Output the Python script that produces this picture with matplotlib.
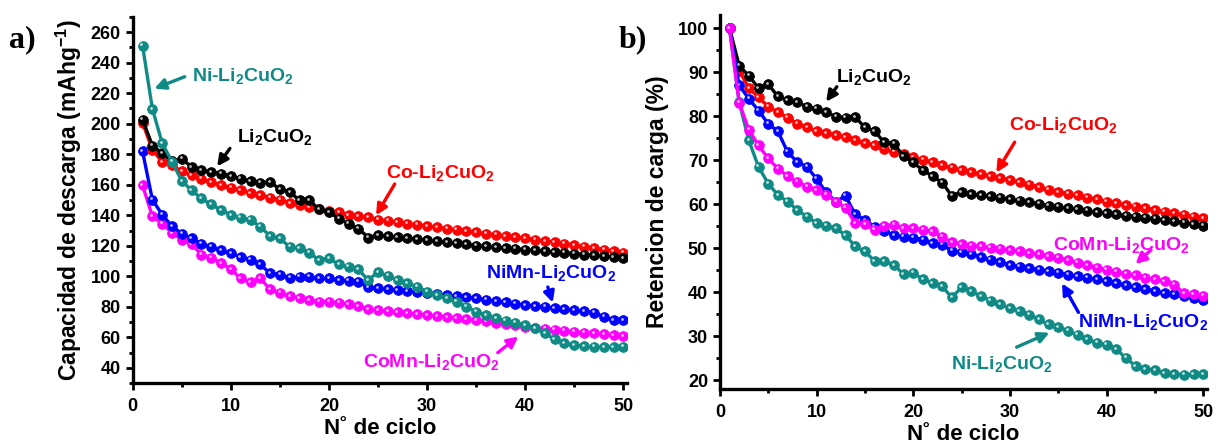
"""
plot.py
Capacidad de descarga y retencion de carga vs N de ciclo.
"""

import matplotlib
matplotlib.use("Agg")

import matplotlib.pyplot as plt
import matplotlib.transforms as mtransforms
import numpy as np
from matplotlib.ticker import MultipleLocator

plt.rcParams["font.family"] = ["Liberation Sans", "DejaVu Sans"]
plt.rcParams["font.weight"] = "bold"
plt.rcParams["mathtext.fontset"] = "custom"
plt.rcParams["mathtext.rm"] = "Liberation Sans:bold"
plt.rcParams["mathtext.bf"] = "Liberation Sans:bold"
plt.rcParams["mathtext.it"] = "Liberation Sans:bold"

# --- data -------------------------------------------------------------
ciclo = np.arange(1, 51)

# a) capacidad de descarga (mAh/g)
cap_li = [202.5, 185.7, 180.7, 175.5, 177.0, 171.7, 169.4, 168.3, 167.2, 165.7,
          164.0, 162.4, 161.4, 161.8, 157.0, 155.2, 149.8, 149.8, 143.9, 142.2,
          137.8, 134.6, 131.3, 125.4, 126.9, 126.3, 125.6, 124.9, 124.3, 123.7,
          123.0, 122.4, 121.6, 120.9, 120.2, 119.6, 119.0, 118.5, 118.0, 117.5,
          117.0, 116.5, 116.0, 115.4, 114.9, 114.3, 113.7, 113.2, 112.6, 111.9]
cap_co = [200.5, 183.0, 174.8, 172.7, 168.8, 166.1, 164.0, 161.8, 159.6, 158.1,
          156.3, 154.6, 153.0, 151.6, 150.3, 148.0, 146.5, 145.4, 143.9, 142.8,
          142.2, 140.0, 139.3, 138.9, 137.2, 136.4, 135.5, 134.6, 133.8, 133.0,
          132.2, 131.3, 130.5, 129.6, 128.8, 128.0, 127.2, 126.4, 125.6, 124.8,
          124.0, 123.2, 122.3, 121.4, 120.5, 119.5, 118.5, 117.5, 116.5, 115.4]
cap_ni = [251.0, 209.7, 187.3, 175.0, 162.5, 156.3, 151.0, 147.1, 143.5, 140.2,
          138.3, 137.0, 132.6, 126.3, 124.8, 119.3, 118.6, 115.4, 110.6, 111.7,
          107.8, 106.2, 104.5, 97.5, 102.9, 100.3, 97.5, 95.4, 93.2, 89.9,
          87.7, 85.6, 83.3, 80.1, 76.8, 74.6, 72.5, 70.9, 69.6, 68.1,
          65.9, 62.7, 58.8, 56.1, 55.0, 54.2, 53.8, 53.6, 53.7, 54.0]
cap_nimn = [181.8, 150.2, 140.4, 132.8, 128.0, 124.8, 121.5, 119.3, 117.1, 115.0,
            112.7, 111.0, 107.8, 101.9, 101.2, 99.0, 99.7, 99.7, 98.6, 98.6,
            97.5, 97.1, 96.4, 92.7, 92.1, 91.6, 91.0, 90.4, 89.8, 89.2,
            88.5, 87.8, 87.0, 86.3, 85.6, 84.7, 83.8, 82.9, 82.0, 81.2,
            80.6, 80.0, 79.3, 78.6, 77.9, 77.0, 76.2, 73.5, 71.4, 71.4]
cap_comn = [159.6, 139.3, 134.6, 128.4, 124.1, 121.0, 114.3, 112.1, 108.8, 104.7,
            98.6, 96.0, 98.6, 91.4, 89.2, 87.1, 85.6, 84.4, 83.3, 83.3,
            82.7, 81.8, 80.5, 78.4, 77.9, 77.2, 76.5, 75.8, 75.2, 74.6,
            74.0, 73.3, 72.7, 72.0, 71.4, 70.5, 69.6, 68.7, 67.9, 67.0,
            66.3, 65.7, 65.0, 64.4, 63.7, 63.1, 62.6, 62.0, 61.5, 60.9]

# b) retencion de carga (%)
ret_li = [100.0, 91.5, 89.2, 86.4, 87.3, 84.5, 83.6, 83.2, 82.2, 81.7,
          80.9, 79.9, 79.7, 79.8, 77.5, 76.6, 74.1, 73.8, 70.9, 69.5,
          67.7, 66.4, 64.9, 61.9, 62.8, 62.3, 62.0, 61.8, 61.5, 61.1,
          60.8, 60.4, 60.1, 59.7, 59.4, 59.1, 58.8, 58.5, 58.2, 57.9,
          57.7, 57.4, 57.2, 56.9, 56.7, 56.4, 56.1, 55.8, 55.5, 55.1]
ret_co = [100.0, 90.4, 86.4, 84.3, 82.2, 80.9, 79.7, 78.3, 77.5, 76.6,
          76.2, 75.7, 75.3, 74.5, 73.9, 73.4, 72.6, 71.9, 71.4, 70.7,
          70.1, 69.5, 68.9, 68.3, 67.7, 67.3, 66.8, 66.4, 65.9, 65.5,
          65.0, 64.4, 63.9, 63.3, 62.8, 62.4, 62.0, 61.5, 61.1, 60.6,
          60.2, 59.8, 59.4, 59.1, 58.7, 58.3, 57.9, 57.6, 57.2, 56.8]
ret_ni = [100.0, 83.2, 74.5, 68.5, 64.7, 62.1, 60.6, 58.7, 57.2, 55.7,
          55.1, 54.5, 53.0, 50.4, 49.3, 47.1, 47.0, 46.2, 44.1, 44.4,
          42.9, 42.1, 41.3, 38.8, 41.1, 40.2, 39.1, 38.1, 37.2, 36.4,
          35.7, 34.9, 33.8, 32.7, 32.1, 31.2, 30.3, 29.3, 28.5, 28.1,
          27.0, 25.1, 23.2, 22.5, 22.3, 21.6, 21.4, 21.2, 21.3, 21.4]
ret_nimn = [100.0, 87.0, 84.0, 81.3, 78.3, 76.6, 71.9, 69.6, 68.5, 65.8,
            62.7, 60.6, 61.9, 57.7, 56.4, 54.9, 53.9, 53.0, 52.6, 52.4,
            51.9, 51.1, 50.8, 49.4, 49.1, 48.6, 48.0, 47.4, 46.8, 46.2,
            45.8, 45.5, 45.1, 44.8, 44.4, 44.0, 43.6, 43.3, 42.9, 42.5,
            42.0, 41.6, 41.1, 40.7, 40.2, 39.8, 39.5, 39.1, 38.7, 38.3]
ret_comn = [100.0, 83.1, 76.9, 73.4, 70.4, 68.1, 66.4, 65.1, 64.0, 63.2,
            62.2, 60.6, 59.2, 55.7, 55.4, 54.2, 55.1, 55.3, 54.5, 54.5,
            54.2, 53.8, 52.6, 51.3, 50.9, 50.6, 50.4, 50.1, 49.9, 49.6,
            49.3, 48.9, 48.6, 48.2, 47.8, 47.3, 46.7, 46.2, 45.6, 45.1,
            44.7, 44.2, 43.8, 43.3, 42.9, 42.5, 41.7, 39.8, 39.5, 39.2]

C_LI = "#000000"
C_CO = "#ff0000"
C_NI = "#108a85"
C_NIMN = "#0000ff"
C_COMN = "#ff00ff"

LBL_LI = r"Li$_2$CuO$_2$"
LBL_CO = r"Co-Li$_2$CuO$_2$"
LBL_NI = r"Ni-Li$_2$CuO$_2$"
LBL_NIMN = r"NiMn-Li$_2$CuO$_2$"
LBL_COMN = r"CoMn-Li$_2$CuO$_2$"


def sphere_line(ax, fig, y, color):
    ax.plot(ciclo, y, "-o", color=color, lw=2.4, ms=7.0, mec=color, mew=0.6,
            zorder=3)
    hl = mtransforms.offset_copy(ax.transData, fig=fig, x=-1.2, y=1.4, units="dots")
    ax.plot(ciclo, y, "o", color="white", ms=2.0, alpha=0.75, mew=0,
            transform=hl, zorder=3)


def label(ax, text, color, xy_text, xy_arrow):
    ax.annotate("", xy=xy_arrow, xytext=xy_text[2:],
                arrowprops=dict(arrowstyle="-|>", color=color, lw=2.4,
                                mutation_scale=16, shrinkA=0, shrinkB=0),
                zorder=5)
    ax.text(xy_text[0], xy_text[1], text, color=color, fontsize=14,
            fontweight="bold", ha="left", va="center", zorder=5)


def style_axes(ax):
    for side in ("top", "right"):
        ax.spines[side].set_visible(False)
    for side in ("left", "bottom"):
        ax.spines[side].set_linewidth(2.4)
    ax.xaxis.set_major_locator(MultipleLocator(10))
    ax.xaxis.set_minor_locator(MultipleLocator(5))
    ax.tick_params(which="major", length=5, width=2.0, labelsize=13, direction="out")
    ax.tick_params(which="minor", length=3, width=2.0, direction="out")
    ax.tick_params(axis="x", pad=6)
    for t in ax.get_xticklabels() + ax.get_yticklabels():
        t.set_fontweight("bold")
    ax.set_xlim(0, 50.4)
    ax.set_xlabel("N\u02da de ciclo", fontsize=16, fontweight="bold", labelpad=2)


fig = plt.figure(figsize=(12.18, 4.44), dpi=100)
ax1 = fig.add_axes([0.109, 0.137, 0.406, 0.825])
ax2 = fig.add_axes([0.591, 0.124, 0.400, 0.842])

# a)
for y, c in [(cap_comn, C_COMN), (cap_nimn, C_NIMN), (cap_co, C_CO),
             (cap_li, C_LI), (cap_ni, C_NI)]:
    sphere_line(ax1, fig, y, c)
ax1.set_ylim(30, 270)
ax1.yaxis.set_major_locator(MultipleLocator(20))
ax1.yaxis.set_minor_locator(MultipleLocator(10))
style_axes(ax1)
ax1.set_ylabel("Capacidad de descarga (mAhg$^{-1}$)", fontsize=16.5,
               fontweight="bold", labelpad=5)

label(ax1, LBL_NI, C_NI, (6.0, 231.5, 5.3, 230.8), (2.2, 223.0))
label(ax1, LBL_LI, C_LI, (10.6, 191.0, 9.9, 183.8), (8.6, 172.0))
label(ax1, LBL_CO, C_CO, (25.8, 168.0, 26.7, 160.5), (24.8, 140.0))
label(ax1, LBL_NIMN, C_NIMN, (36.0, 102.0, 42.3, 93.0), (42.8, 82.8))
label(ax1, LBL_COMN, C_COMN, (23.5, 44.0, 37.2, 50.0), (39.3, 60.6))

# b)
for y, c in [(ret_ni, C_NI), (ret_co, C_CO), (ret_li, C_LI),
             (ret_nimn, C_NIMN), (ret_comn, C_COMN)]:
    sphere_line(ax2, fig, y, c)
ax2.set_ylim(18, 103)
ax2.yaxis.set_major_locator(MultipleLocator(10))
ax2.yaxis.set_minor_locator(MultipleLocator(5))
style_axes(ax2)
ax2.set_ylabel("Retencion de carga (%)", fontsize=16.5, fontweight="bold", labelpad=6)

label(ax2, LBL_LI, C_LI, (12.0, 89.0, 12.1, 86.7), (11.0, 83.3))
label(ax2, LBL_CO, C_CO, (29.9, 77.9, 30.5, 74.1), (28.6, 67.2))
label(ax2, LBL_COMN, C_COMN, (34.5, 50.8, 44.6, 49.6), (43.0, 46.4))
label(ax2, LBL_NIMN, C_NIMN, (37.1, 33.3, 37.1, 35.4), (35.4, 42.0))
label(ax2, LBL_NI, C_NI, (23.9, 23.6, 30.7, 27.5), (34.1, 30.8))

fig.text(0.007, 0.91, "a)", fontsize=23, fontweight="bold",
         family=["Liberation Serif", "DejaVu Serif"], va="center")
fig.text(0.508, 0.91, "b)", fontsize=23, fontweight="bold",
         family=["Liberation Serif", "DejaVu Serif"], va="center")

fig.savefig("out.png", dpi=100)
